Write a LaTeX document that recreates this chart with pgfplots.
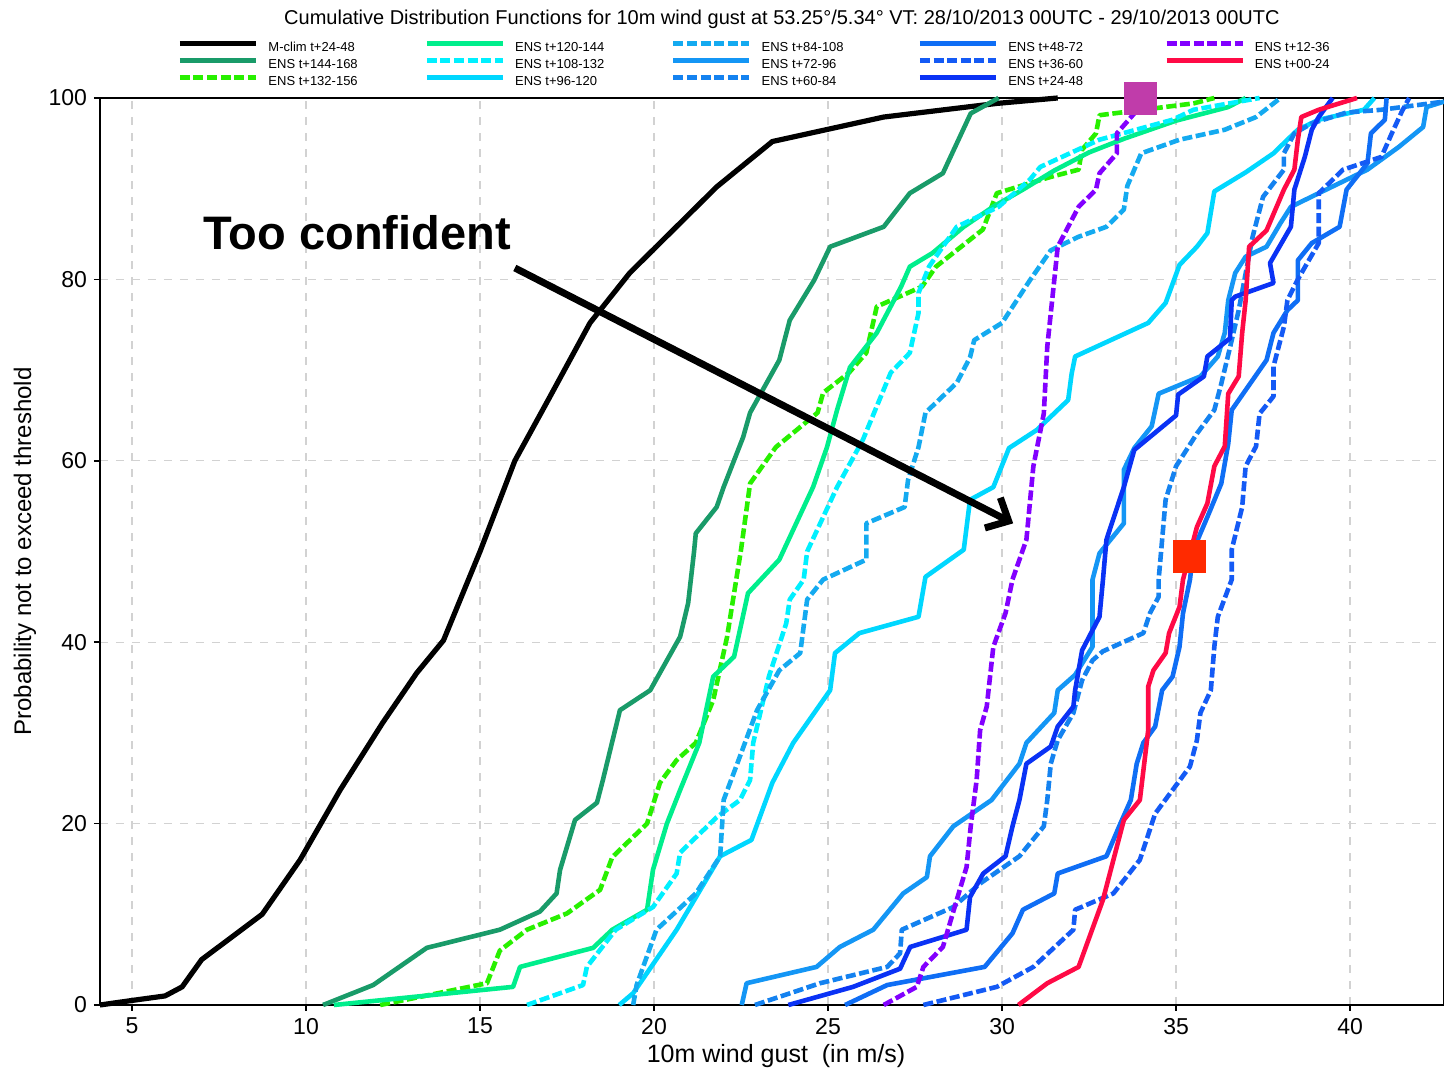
\documentclass[border=0pt]{standalone}
\usepackage{fontspec}
\setmainfont{Liberation Sans}
\usepackage{pgfplots}
\pgfplotsset{compat=1.18}
\usetikzlibrary{arrows.meta}
\definecolor{cA}{RGB}{25,155,105}
\definecolor{cB}{RGB}{40,240,0}
\definecolor{cC}{RGB}{0,238,140}
\definecolor{cD}{RGB}{0,240,255}
\definecolor{cE}{RGB}{0,215,255}
\definecolor{cF}{RGB}{20,170,240}
\definecolor{cG}{RGB}{20,150,245}
\definecolor{cH}{RGB}{20,130,240}
\definecolor{cI}{RGB}{15,110,245}
\definecolor{cJ}{RGB}{20,90,245}
\definecolor{cK}{RGB}{10,50,245}
\definecolor{cP}{RGB}{130,0,255}
\definecolor{cR}{RGB}{255,10,70}
\definecolor{sqM}{RGB}{192,60,170}
\definecolor{sqR}{RGB}{255,42,0}
\pgfplotsset{
  L/.style={line width=2.3pt, line join=round, mark=none},
  D/.style={dash pattern=on 5pt off 1.8pt},
}
\newcommand{\LE}[1]{\makebox[77pt][l]{#1}}
\begin{document}
\begin{tikzpicture}
\begin{axis}[
  scale only axis, width=672pt, height=453.5pt,
  xmin=4.08, xmax=42.7, ymin=0, ymax=100,
  clip=false,
  xtick={5,10,...,40}, ytick={0,20,...,100},
  tick align=outside, major tick length=3pt,
  xtick pos=bottom, ytick pos=left,
  grid=major, major grid style={gray!35, line width=0.6pt, dash pattern=on 4pt off 4pt},
  axis line style={line width=0.9pt},
  tick style={black, line width=0.8pt},
  tick label style={font=\fontsize{11.5}{13}\selectfont},
  /pgf/number format/assume math mode=true,
  xlabel={10m wind gust\ \ (in m/s)},
  ylabel={Probability not to exceed threshold},
  xlabel style={font=\fontsize{12.5}{14}\selectfont, at={(axis description cs:0.503,0)}, anchor=north, yshift=-16pt},
  ylabel style={font=\fontsize{12}{14}\selectfont, at={(axis description cs:-0.0558,0.5)}, anchor=center},
  legend columns=5,
  legend style={at={(axis description cs:0.0572,1.008)}, anchor=south west, draw=none, fill=none, inner sep=0pt,
    font=\fontsize{6.5}{7}\selectfont, nodes={inner sep=1pt, text height=5pt, text depth=1.5pt},
    /tikz/every odd column/.append style={column sep=4pt}, row sep=0pt},
  legend image code/.code={\draw[#1, line cap=butt] (0pt,2.3pt) -- (38pt,2.3pt);},
]
% legend images (row-major order)
\addlegendimage{L, black, line width=2.6pt}
\addlegendimage{L, cC}
\addlegendimage{L, D, cF}
\addlegendimage{L, cI}
\addlegendimage{L, D, cP}
\addlegendimage{L, cA}
\addlegendimage{L, D, cD}
\addlegendimage{L, cG}
\addlegendimage{L, D, cJ}
\addlegendimage{L, cR}
\addlegendimage{L, D, cB}
\addlegendimage{L, cE}
\addlegendimage{L, D, cH}
\addlegendimage{L, cK}
\legend{\LE{M-clim t+24-48},\LE{ENS t+120-144},\LE{ENS t+84-108},\LE{ENS t+48-72},\LE{ENS t+12-36},
        \LE{ENS t+144-168},\LE{ENS t+108-132},\LE{ENS t+72-96},\LE{ENS t+36-60},\LE{ENS t+00-24},
        \LE{ENS t+132-156},\LE{ENS t+96-120},\LE{ENS t+60-84},\LE{ENS t+24-48}}

% M-clim
\addplot[L, black, line width=2.6pt, forget plot] coordinates {
(4.08,0)(5.0,0.5)(5.95,1)(6.44,2)(7.0,5)(8.74,10)(9.83,16)(10.98,23.7)(12.2,31.1)(13.18,36.6)(13.95,40.2)(15.0,50)(16.0,60)(17.0,67)(18.16,75.2)(19.3,80.7)(21.8,90.2)(23.4,95.2)(26.6,97.9)(29.85,99.4)(31.6,100)};
% ENS 144-168
\addplot[L, cA, forget plot] coordinates {
(10.49,0)(11.93,2.2)(13.47,6.3)(15.57,8.3)(16.72,10.3)(17.2,12.3)(17.3,14.9)(17.73,20.4)(18.36,22.3)(18.53,24.8)(19.02,32.5)(19.89,34.7)(20.75,40.6)(20.98,44.3)(21.15,50)(21.2,52)(21.8,54.9)(22.0,57.1)(22.56,62.6)(22.76,65.3)(23.6,71.1)(23.9,75.5)(24.6,79.9)(25.06,83.6)(26.6,85.8)(27.35,89.5)(28.3,91.7)(29.1,98.3)(29.9,100)};
% ENS 132-156
\addplot[L, D, cB, forget plot] coordinates {
(12.13,0)(15.2,2.4)(15.57,6)(16.35,8.3)(17.5,10.1)(18.45,12.7)(18.8,16.3)(19.8,20)(20.17,24.5)(20.65,27)(21.2,28.9)(21.7,33.6)(22.1,40.6)(22.5,50.2)(22.76,57.5)(23.5,61.5)(24.7,65.3)(24.86,67.5)(25.6,69.7)(26.1,71.9)(26.4,77)(27.7,79.2)(28.1,81.4)(29.45,85.5)(29.85,89.5)(31.4,91.3)(32.2,92.1)(32.3,94.3)(32.7,96.1)(32.8,98.1)(35.5,99.4)(36.1,100)};
% ENS 120-144
\addplot[L, cC, forget plot] coordinates {
(10.8,0)(15.95,2)(16.15,4.2)(18.25,6.3)(18.8,8.3)(19.8,10.5)(19.97,14.9)(20.37,20)(20.75,23.7)(21.3,28.9)(21.7,36.2)(22.3,38.4)(22.7,45.4)(23.6,49.1)(24.57,57.1)(24.97,61.5)(25.26,65.6)(25.63,70.3)(26.4,74.1)(27.1,79.2)(27.35,81.4)(28.0,82.9)(28.9,85.8)(29.74,88)(30.6,89.9)(31.5,92)(32.5,94)(33.5,95.5)(35.0,97.5)(36.5,99)(37.0,100)};
% ENS 108-132
\addplot[L, D, cD, forget plot] coordinates {
(16.35,0)(17.96,2.2)(18.07,4.2)(18.9,8.3)(19.97,10.8)(20.65,14.5)(20.75,16.8)(21.8,20.7)(22.47,22.6)(22.76,24.8)(22.85,28.9)(23.3,36.2)(23.8,42.1)(23.9,44.7)(24.3,46.9)(24.4,50)(25.26,57.1)(26.0,62.3)(26.8,69.7)(27.35,71.9)(27.6,76.3)(27.6,78.5)(27.9,81.4)(28.7,85.8)(29.9,88)(30.8,91)(31.1,92.4)(32.8,95.4)(34.9,97.6)(35.5,98.7)(37.4,100)};
% ENS 96-120
\addplot[L, cE, forget plot] coordinates {
(19.0,0)(19.4,1.3)(20.65,8.3)(21.9,16.4)(22.8,18.2)(23.4,24.5)(24.0,28.9)(25.06,34.7)(25.2,38.8)(25.9,41)(27.6,42.8)(27.8,47.2)(28.9,50.2)(29.08,55.7)(29.75,57.1)(30.2,61.4)(31.0,63.4)(31.9,66.7)(32.0,69.6)(32.1,71.5)(34.2,75.2)(34.7,77.4)(35.1,81.6)(35.6,83.6)(35.9,85.1)(36.1,89.7)(37.0,91.8)(37.8,93.9)(38.2,95.4)(38.5,96.5)(39.1,97.6)(40.4,98.7)(40.7,100)};
% ENS 84-108
\addplot[L, D, cF, forget plot] coordinates {
(19.4,0)(19.5,2.2)(20.07,8.3)(21.2,12.3)(21.9,16.4)(22.0,22.6)(22.4,26.7)(22.96,32.5)(23.6,36.9)(24.2,38.8)(24.4,44.7)(24.86,46.9)(26.1,49.1)(26.1,53.1)(27.2,54.9)(27.3,57.9)(27.6,61.5)(27.8,65.3)(28.7,68.6)(29.08,71.4)(29.2,73.3)(30.0,75.2)(30.8,79.9)(31.4,83.2)(32.2,84.7)(33.0,85.8)(33.5,87.7)(33.6,90.3)(34.0,93.9)(35.1,95.4)(36.4,96.5)(37.3,97.9)(38.0,100)};
% ENS 72-96
\addplot[L, cG, forget plot] coordinates {
(22.52,0)(22.66,2.4)(24.67,4.2)(25.34,6.4)(26.3,8.3)(27.16,12.3)(27.84,14.1)(27.93,16.4)(28.6,19.7)(29.7,22.6)(30.5,26.6)(30.7,28.9)(31.5,32.2)(31.6,34.7)(32.1,36.4)(32.6,39.5)(32.6,46.9)(32.8,49.8)(33.5,53.1)(33.5,59)(33.8,61.4)(34.3,63.8)(34.5,67.4)(35.7,69.3)(36.2,71.5)(36.4,74.1)(36.5,77.7)(36.7,80.7)(37.0,82.5)(37.6,83.6)(38.0,86.2)(38.3,88)(39.1,89.5)(40.5,92.1)(41.4,94.6)(42.1,96.8)(42.2,99)(42.7,99.6)};
% ENS 60-84
\addplot[L, D, cH, forget plot] coordinates {
(22.9,0)(24.77,2.4)(26.7,4.2)(27.07,5.7)(27.12,8.3)(28.6,10.8)(29.37,13.4)(30.5,16.4)(31.2,19.7)(31.3,22.6)(31.4,26.6)(31.6,29.2)(32.05,32.2)(32.3,35.8)(32.6,38)(32.9,39)(34.06,41)(34.25,43.2)(34.5,45)(34.5,46.9)(34.7,55.7)(35.0,59.4)(35.6,63)(36.1,65.6)(36.3,68.5)(36.6,73.3)(36.8,76.6)(37.2,84.7)(37.5,89.1)(38.1,92.1)(38.1,93.9)(38.4,96.1)(38.9,97.2)(39.9,98.4)(40.9,98.7)(42.7,99.6)};
% ENS 48-72
\addplot[L, cI, forget plot] coordinates {
(25.49,0)(26.7,2.2)(29.5,4.2)(30.3,7.9)(30.6,10.5)(31.5,12.3)(31.6,14.5)(33.0,16.4)(33.4,20)(33.7,22.6)(33.87,26.6)(34.06,28.9)(34.4,30.7)(34.6,34.7)(34.9,36.2)(35.1,39.5)(35.2,43.2)(35.4,46.9)(35.5,50.2)(35.9,53.8)(36.3,57.5)(36.5,61.9)(36.6,65.6)(37.6,71.1)(37.8,74.1)(38.2,76.6)(38.5,77.7)(38.5,82.1)(38.9,84)(39.7,85.8)(39.9,89.9)(40.5,92.8)(40.6,96.1)(41.0,97.6)(41.05,100)};
% ENS 36-60
\addplot[L, D, cJ, forget plot] coordinates {
(27.74,0)(29.85,2)(30.9,4.2)(32.05,8.3)(32.1,10.5)(33.2,12.3)(33.96,16)(34.4,21.1)(35.4,26.3)(35.6,29.2)(35.7,32.2)(36.0,34.7)(36.1,39.5)(36.2,42.8)(36.6,46.9)(36.6,50.2)(36.9,54.9)(37.0,59.4)(37.3,61.6)(37.4,65.2)(37.8,67.1)(37.8,70.4)(38.1,74.8)(38.2,77.7)(38.5,80)(39.1,84)(39.1,89.5)(39.8,92.1)(40.9,93.5)(41.2,96.1)(41.5,98.6)(41.7,100)};
% ENS 24-48
\addplot[L, cK, forget plot] coordinates {
(23.86,0)(25.72,2)(27.07,4)(27.36,6.4)(28.98,8.3)(29.08,11.9)(29.46,14.5)(30.1,16.4)(30.3,19.7)(30.5,22.6)(30.7,26.6)(31.4,28.5)(31.6,30.7)(32.05,32.9)(32.1,34.7)(32.3,39.1)(32.8,42.8)(32.9,46.9)(33.0,51.3)(33.5,57.1)(33.8,61.2)(35.0,65)(35.06,67.3)(35.8,69.3)(35.9,71.5)(36.55,73.5)(36.6,77.7)(36.7,78.1)(37.8,79.6)(37.7,81.8)(38.3,85.8)(38.4,89.9)(38.7,93.5)(38.9,96.5)(39.1,97.9)(39.5,100)};
% ENS 12-36
\addplot[L, D, cP, forget plot] coordinates {
(26.6,0)(27.55,2)(27.74,4.2)(28.3,6.4)(28.7,11.6)(28.98,15.2)(29.1,19.7)(29.27,24.8)(29.37,30.3)(29.56,32.9)(29.75,39.5)(30.1,43.2)(30.3,46.9)(30.7,51.3)(30.9,59.4)(31.2,65.2)(31.3,72.6)(31.5,79.9)(31.6,83.6)(32.2,88)(32.7,89.9)(32.8,91.7)(33.3,93.9)(33.3,96.1)(33.8,98.3)(34.0,100)};
% ENS 00-24
\addplot[L, cR, forget plot] coordinates {
(30.47,0)(31.3,2.4)(32.2,4.2)(32.9,11.6)(33.2,16)(33.5,20.4)(33.96,22.6)(34.2,30.3)(34.2,35.1)(34.35,36.9)(34.7,38.8)(34.8,41)(35.1,43.9)(35.2,46.9)(35.6,52.7)(35.9,55.3)(36.1,59.4)(36.4,61.6)(36.5,67.4)(36.8,69.3)(36.9,74.1)(37.0,77.7)(37.1,83.6)(37.6,85.4)(38.1,89.9)(38.4,92.1)(38.5,95.4)(38.6,97.9)(39.1,98.7)(40.2,100)};
% markers
\addplot[only marks, mark=square*, mark size=8pt, sqM, mark options={draw=sqM, fill=sqM}, forget plot] coordinates {(33.97,100)};
\addplot[only marks, mark=square*, mark size=8pt, sqR, mark options={draw=sqR, fill=sqR}, forget plot] coordinates {(35.37,49.5)};
% annotation
\draw[line width=3.5pt, -{Straight Barb[length=9pt, width=17pt]}] (axis cs:16.0,81.26) -- (axis cs:30.32,53.1);
\node[font=\fontsize{23.5}{26}\selectfont\bfseries] at (axis cs:11.47,85.2) {Too confident};
\node[font=\fontsize{10}{12}\selectfont, anchor=base] at ([yshift=36.5pt]axis description cs:0.5074,1) {Cumulative Distribution Functions for 10m wind gust at 53.25°/5.34° VT: 28/10/2013 00UTC - 29/10/2013 00UTC};
\end{axis}
\pgfresetboundingbox
\path ([shift={(-50pt,-31.5pt)}]current axis.south west) rectangle ([shift={(0pt,49pt)}]current axis.north east);
\end{tikzpicture}
\end{document}
